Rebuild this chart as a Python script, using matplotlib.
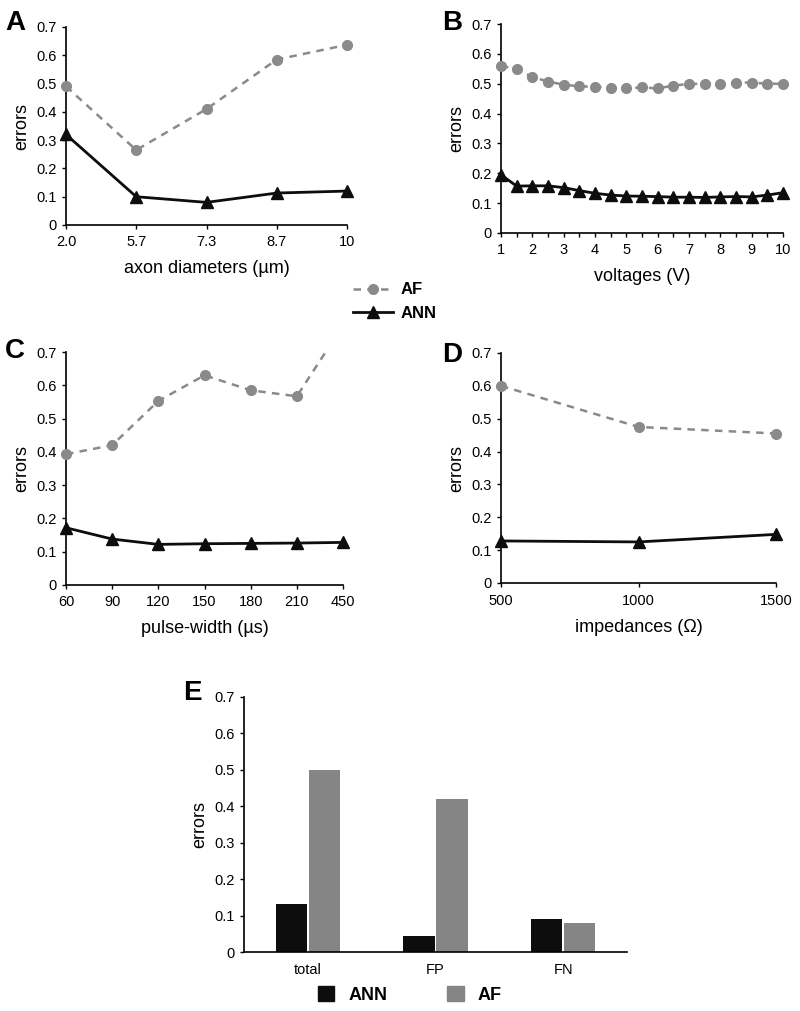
import matplotlib
matplotlib.use("Agg")
import matplotlib.pyplot as plt
import numpy as np
from matplotlib.lines import Line2D
from matplotlib.patches import Patch

plt.rcParams['font.family'] = ['Liberation Sans', 'DejaVu Sans']

# Panel A: axon diameters
diam_labels = ['2.0', '5.7', '7.3', '8.7', '10']
diam_af = [0.490, 0.265, 0.410, 0.585, 0.637]
diam_ann = [0.320, 0.100, 0.080, 0.113, 0.120]

# Panel B: voltages
volts = [1, 1.5, 2, 2.5, 3, 3.5, 4, 4.5, 5, 5.5, 6, 6.5, 7, 7.5, 8, 8.5, 9, 9.5, 10]
volt_af = [0.560, 0.548, 0.523, 0.507, 0.497, 0.491, 0.490, 0.487, 0.484, 0.488,
           0.484, 0.494, 0.499, 0.500, 0.500, 0.504, 0.504, 0.500, 0.500]
volt_ann = [0.195, 0.157, 0.158, 0.158, 0.152, 0.142, 0.133, 0.127, 0.124, 0.123,
            0.122, 0.120, 0.120, 0.119, 0.121, 0.122, 0.121, 0.127, 0.135]

# Panel C: pulse-widths
pw_labels = ['60', '90', '120', '150', '180', '210', '450']
pw_af = [0.393, 0.420, 0.553, 0.630, 0.585, 0.567, 0.780]
pw_ann = [0.172, 0.138, 0.122, 0.124, 0.125, 0.126, 0.128]

# Panel D: impedances
imp = [500, 1000, 1500]
imp_af = [0.600, 0.475, 0.455]
imp_ann = [0.128, 0.125, 0.148]

# Panel E: summary bars
bar_cats = ['total', 'FP', 'FN']
bar_ann = [0.133, 0.043, 0.090]
bar_af = [0.500, 0.420, 0.080]

AF_COLOR = '#8a8a8a'
ANN_COLOR = '#0d0d0d'
BAR_AF = '#858585'

W, H = 800, 1011
fig = plt.figure(figsize=(W / 100, H / 100), dpi=100)


def box(left, top, right, bottom):
    return [left / W, 1 - bottom / H, (right - left) / W, (bottom - top) / H]


def style_axes(ax):
    ax.spines['top'].set_visible(False)
    ax.spines['right'].set_visible(False)
    ax.spines['left'].set_linewidth(1.2)
    ax.spines['bottom'].set_linewidth(1.2)
    ax.set_ylim(0, 0.7)
    ax.set_yticks(np.arange(0, 0.71, 0.1))
    ax.set_yticklabels(['0'] + [f'{v:.1f}' for v in np.arange(0.1, 0.71, 0.1)])
    ax.tick_params(axis='both', labelsize=10.5, direction='out', length=3, width=1, pad=4)
    ax.set_ylabel('errors', fontsize=13, labelpad=4)


def plot_pair(ax, x, af, ann):
    ax.plot(x, af, color=AF_COLOR, ls=(0, (3, 2.5)), lw=1.8, marker='o', ms=7,
            mec=AF_COLOR, mfc=AF_COLOR, clip_on=False, zorder=3)
    ax.plot(x, ann, color=ANN_COLOR, ls='-', lw=2, marker='^', ms=8,
            mec=ANN_COLOR, mfc=ANN_COLOR, clip_on=False, zorder=4)


# A
axA = fig.add_axes(box(66, 27, 347, 225))
xa = np.arange(len(diam_labels))
plot_pair(axA, xa, diam_af, diam_ann)
axA.set_xlim(xa[0], xa[-1])
axA.set_xticks(xa)
axA.set_xticklabels(diam_labels)
axA.set_xlabel('axon diameters (µm)', fontsize=13, labelpad=8)
style_axes(axA)

# B
axB = fig.add_axes(box(501, 24, 783, 233))
plot_pair(axB, volts, volt_af, volt_ann)
axB.set_xlim(1, 10)
axB.set_xticks(range(1, 11))
axB.set_xticks(volts, minor=True)
axB.tick_params(axis='x', which='minor', length=3, width=1)
axB.set_xlabel('voltages (V)', fontsize=13, labelpad=8)
style_axes(axB)

# C
axC = fig.add_axes(box(66, 352, 343, 585))
xc = np.arange(len(pw_labels))
axC.plot(xc, pw_af, color=AF_COLOR, ls=(0, (3, 2.5)), lw=1.8, zorder=3)
axC.plot(xc[:-1], pw_af[:-1], color=AF_COLOR, ls='none', marker='o', ms=7,
         clip_on=False, zorder=3)
axC.plot(xc, pw_ann, color=ANN_COLOR, ls='-', lw=2, marker='^', ms=8,
         clip_on=False, zorder=4)
axC.set_xlim(xc[0], xc[-1])
axC.set_xticks(xc)
axC.set_xticklabels(pw_labels)
axC.set_xlabel('pulse-width (µs)', fontsize=13, labelpad=8)
style_axes(axC)

# D
axD = fig.add_axes(box(501, 353, 776, 583))
plot_pair(axD, imp, imp_af, imp_ann)
axD.set_xlim(500, 1500)
axD.set_xticks(imp)
axD.set_xlabel('impedances (Ω)', fontsize=13, labelpad=8)
style_axes(axD)
axD.tick_params(axis='x', pad=5)

# E
axE = fig.add_axes(box(244, 697, 627, 952))
xe = np.arange(len(bar_cats))
bw = 0.245
axE.bar(xe - bw / 2 - 0.006, bar_ann, width=bw, color=ANN_COLOR)
axE.bar(xe + bw / 2 + 0.006, bar_af, width=bw, color=BAR_AF)
axE.set_xlim(-0.5, 2.5)
axE.set_xticks(xe)
axE.set_xticklabels(bar_cats)
style_axes(axE)
axE.tick_params(axis='x', length=0, pad=8)
axE.tick_params(axis='y', labelsize=10.5)

# panel letters
for lbl, (px, py) in zip('ABCDE', [(5, 30), (442, 30), (5, 358), (442, 362), (183, 700)]):
    fig.text(px / W, 1 - py / H, lbl, fontsize=20, fontweight='bold', va='baseline')

# shared line legend
line_handles = [
    Line2D([], [], color=AF_COLOR, ls=(0, (3, 2.5)), lw=1.8, marker='o', ms=7),
    Line2D([], [], color=ANN_COLOR, ls='-', lw=2, marker='^', ms=8),
]
fig.legend(line_handles, ['AF', 'ANN'], loc='upper left',
           bbox_to_anchor=(345 / W, 1 - 274 / H), frameon=False,
           prop={'weight': 'bold', 'size': 12}, handlelength=2.4,
           handletextpad=0.45, labelspacing=0.5, borderpad=0)

# bar legend
bar_handles = [Patch(color=ANN_COLOR), Patch(color=BAR_AF)]
fig.legend(bar_handles, ['ANN', 'AF'], loc='center',
           bbox_to_anchor=(410 / W, 1 - 995 / H), ncol=2, frameon=False,
           prop={'weight': 'bold', 'size': 13}, handlelength=0.9,
           handleheight=0.9, handletextpad=0.8, columnspacing=3.3, borderpad=0)

fig.savefig('out.png', dpi=100)
